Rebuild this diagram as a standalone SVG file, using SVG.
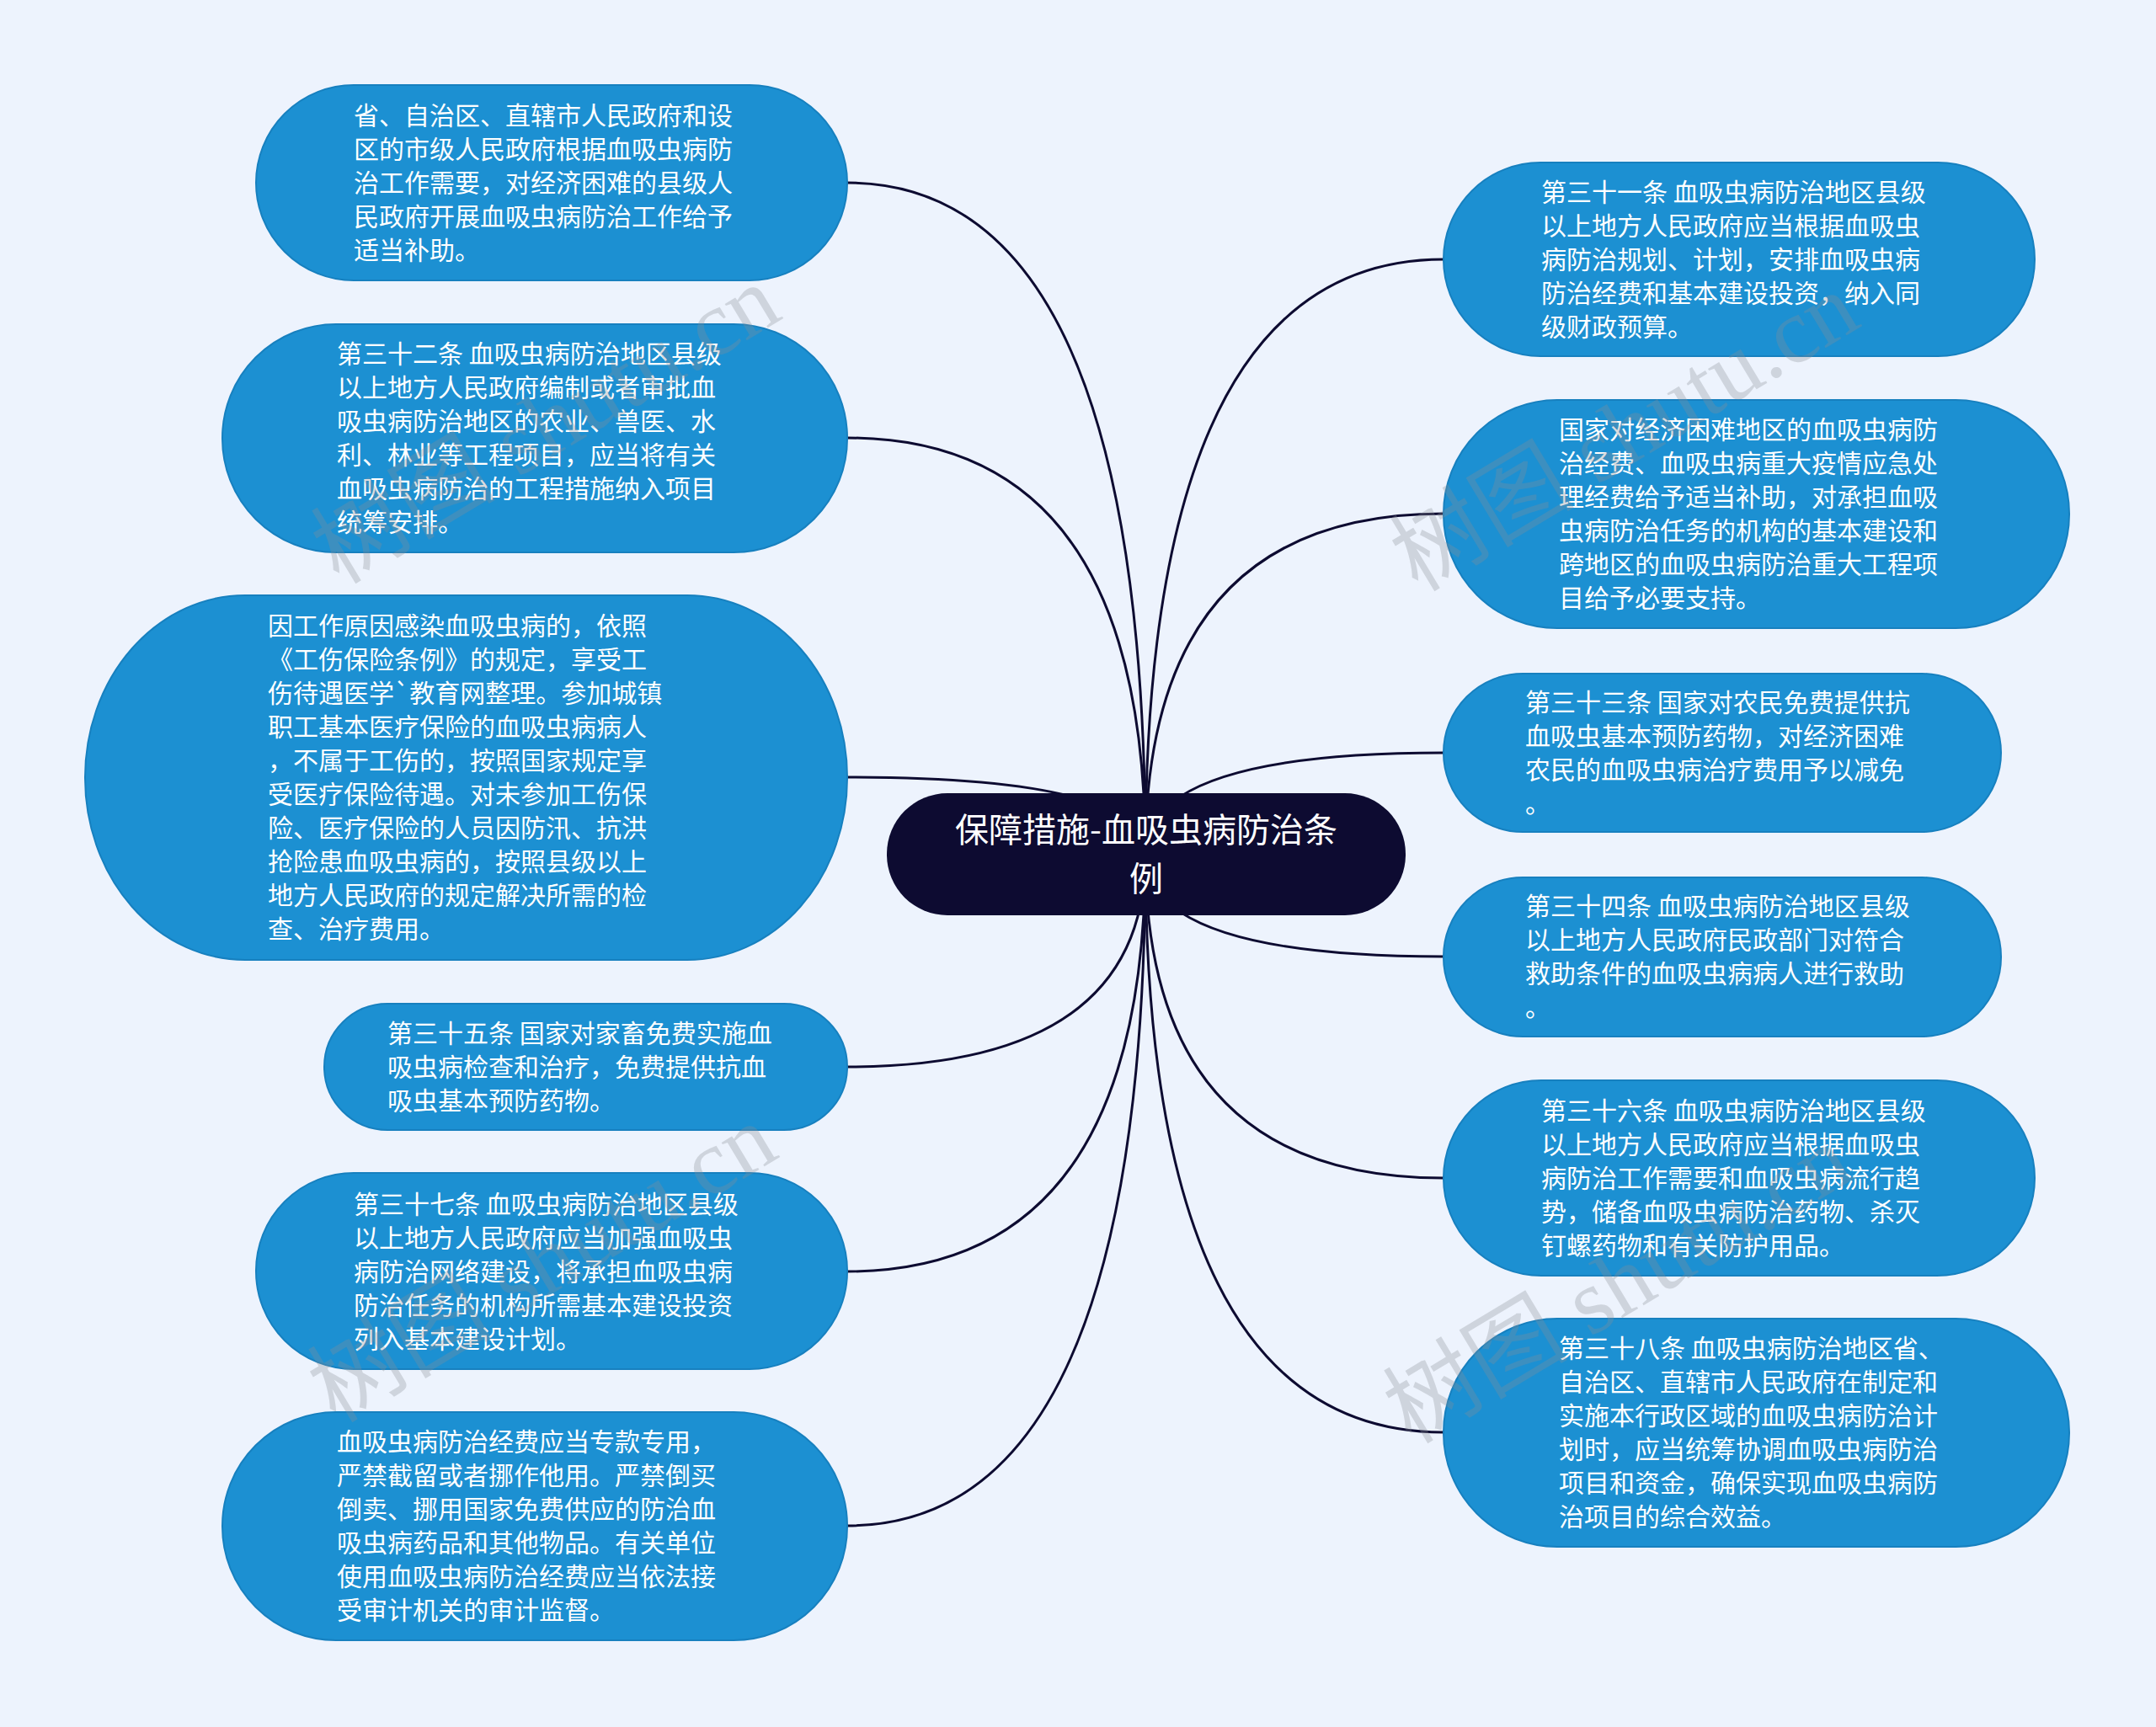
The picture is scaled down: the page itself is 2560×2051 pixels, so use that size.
<svg xmlns="http://www.w3.org/2000/svg" width="2560" height="2051" viewBox="0 0 2560 2051">
<style>
.bg{fill:#edf3fd}
.node rect{fill:#1c90d2;stroke:#1780bf;stroke-width:2}
.node text{font-family:"Noto Sans CJK SC","Noto Sans",sans-serif;font-size:30px;fill:#ffffff}
.root rect{fill:#0d0b31}
.root text{font-family:"Noto Sans CJK SC","Noto Sans",sans-serif;font-size:40px;fill:#ffffff;text-anchor:middle}
.edge{fill:none;stroke:#0d0b31;stroke-width:3}
.wm{font-family:"Liberation Serif","Noto Sans CJK SC",serif;font-size:110px;fill:#8a8f96;opacity:0.3;text-anchor:middle}
</style>
<rect class="bg" x="0" y="0" width="2560" height="2051"/>
<g id="connectors">
<path class="edge" d="M1360 1014 Q1360 217 1006 217"/>
<path class="edge" d="M1360 1014 Q1360 520 1006 520"/>
<path class="edge" d="M1360 1014 Q1360 923 1006 923"/>
<path class="edge" d="M1360 1014 Q1360 1267 1006 1267"/>
<path class="edge" d="M1360 1014 Q1360 1510 1006 1510"/>
<path class="edge" d="M1360 1014 Q1360 1812 1006 1812"/>
<path class="edge" d="M1360 1014 Q1360 308 1714 308"/>
<path class="edge" d="M1360 1014 Q1360 610 1714 610"/>
<path class="edge" d="M1360 1014 Q1360 894 1714 894"/>
<path class="edge" d="M1360 1014 Q1360 1136 1714 1136"/>
<path class="edge" d="M1360 1014 Q1360 1399 1714 1399"/>
<path class="edge" d="M1360 1014 Q1360 1701 1714 1701"/>
</g>
<g id="root" class="root">
<rect x="1053" y="942" width="616" height="145" rx="72"/>
<text x="1361" y="1000">保障措施-血吸虫病防治条</text>
<text x="1361" y="1058">例</text>
</g>
<g id="L1" class="node">
<rect x="304" y="101" width="702" height="232" rx="116"/>
<text x="420" y="148"><tspan x="420">省、自治区、直辖市人民政府和设</tspan><tspan x="420" dy="40">区的市级人民政府根据血吸虫病防</tspan><tspan x="420" dy="40">治工作需要，对经济困难的县级人</tspan><tspan x="420" dy="40">民政府开展血吸虫病防治工作给予</tspan><tspan x="420" dy="40">适当补助。</tspan></text>
</g>
<g id="L2" class="node">
<rect x="264" y="385" width="742" height="271" rx="135"/>
<text x="400" y="431"><tspan x="400">第三十二条 血吸虫病防治地区县级</tspan><tspan x="400" dy="40">以上地方人民政府编制或者审批血</tspan><tspan x="400" dy="40">吸虫病防治地区的农业、兽医、水</tspan><tspan x="400" dy="40">利、林业等工程项目，应当将有关</tspan><tspan x="400" dy="40">血吸虫病防治的工程措施纳入项目</tspan><tspan x="400" dy="40">统筹安排。</tspan></text>
</g>
<g id="L3" class="node">
<rect x="101" y="707" width="905" height="433" rx="190" ry="216"/>
<text x="318" y="754"><tspan x="318">因工作原因感染血吸虫病的，依照</tspan><tspan x="318" dy="40">《工伤保险条例》的规定，享受工</tspan><tspan x="318" dy="40">伤待遇医学`教育网整理。参加城镇</tspan><tspan x="318" dy="40">职工基本医疗保险的血吸虫病病人</tspan><tspan x="318" dy="40">，不属于工伤的，按照国家规定享</tspan><tspan x="318" dy="40">受医疗保险待遇。对未参加工伤保</tspan><tspan x="318" dy="40">险、医疗保险的人员因防汛、抗洪</tspan><tspan x="318" dy="40">抢险患血吸虫病的，按照县级以上</tspan><tspan x="318" dy="40">地方人民政府的规定解决所需的检</tspan><tspan x="318" dy="40">查、治疗费用。</tspan></text>
</g>
<g id="L4" class="node">
<rect x="385" y="1192" width="621" height="150" rx="75"/>
<text x="460" y="1238"><tspan x="460">第三十五条 国家对家畜免费实施血</tspan><tspan x="460" dy="40">吸虫病检查和治疗，免费提供抗血</tspan><tspan x="460" dy="40">吸虫基本预防药物。</tspan></text>
</g>
<g id="L5" class="node">
<rect x="304" y="1393" width="702" height="233" rx="116"/>
<text x="420" y="1441"><tspan x="420">第三十七条 血吸虫病防治地区县级</tspan><tspan x="420" dy="40">以上地方人民政府应当加强血吸虫</tspan><tspan x="420" dy="40">病防治网络建设，将承担血吸虫病</tspan><tspan x="420" dy="40">防治任务的机构所需基本建设投资</tspan><tspan x="420" dy="40">列入基本建设计划。</tspan></text>
</g>
<g id="L6" class="node">
<rect x="264" y="1677" width="742" height="271" rx="135"/>
<text x="400" y="1723"><tspan x="400">血吸虫病防治经费应当专款专用，</tspan><tspan x="400" dy="40">严禁截留或者挪作他用。严禁倒买</tspan><tspan x="400" dy="40">倒卖、挪用国家免费供应的防治血</tspan><tspan x="400" dy="40">吸虫病药品和其他物品。有关单位</tspan><tspan x="400" dy="40">使用血吸虫病防治经费应当依法接</tspan><tspan x="400" dy="40">受审计机关的审计监督。</tspan></text>
</g>
<g id="R1" class="node">
<rect x="1714" y="193" width="702" height="230" rx="115"/>
<text x="1830" y="239"><tspan x="1830">第三十一条 血吸虫病防治地区县级</tspan><tspan x="1830" dy="40">以上地方人民政府应当根据血吸虫</tspan><tspan x="1830" dy="40">病防治规划、计划，安排血吸虫病</tspan><tspan x="1830" dy="40">防治经费和基本建设投资，纳入同</tspan><tspan x="1830" dy="40">级财政预算。</tspan></text>
</g>
<g id="R2" class="node">
<rect x="1714" y="475" width="743" height="271" rx="135"/>
<text x="1851" y="521"><tspan x="1851">国家对经济困难地区的血吸虫病防</tspan><tspan x="1851" dy="40">治经费、血吸虫病重大疫情应急处</tspan><tspan x="1851" dy="40">理经费给予适当补助，对承担血吸</tspan><tspan x="1851" dy="40">虫病防治任务的机构的基本建设和</tspan><tspan x="1851" dy="40">跨地区的血吸虫病防治重大工程项</tspan><tspan x="1851" dy="40">目给予必要支持。</tspan></text>
</g>
<g id="R3" class="node">
<rect x="1714" y="800" width="662" height="188" rx="94"/>
<text x="1811" y="845"><tspan x="1811">第三十三条 国家对农民免费提供抗</tspan><tspan x="1811" dy="40">血吸虫基本预防药物，对经济困难</tspan><tspan x="1811" dy="40">农民的血吸虫病治疗费用予以减免</tspan><tspan x="1811" dy="40">。</tspan></text>
</g>
<g id="R4" class="node">
<rect x="1714" y="1042" width="662" height="189" rx="94"/>
<text x="1811" y="1087"><tspan x="1811">第三十四条 血吸虫病防治地区县级</tspan><tspan x="1811" dy="40">以上地方人民政府民政部门对符合</tspan><tspan x="1811" dy="40">救助条件的血吸虫病病人进行救助</tspan><tspan x="1811" dy="40">。</tspan></text>
</g>
<g id="R5" class="node">
<rect x="1714" y="1283" width="702" height="232" rx="116"/>
<text x="1830" y="1330"><tspan x="1830">第三十六条 血吸虫病防治地区县级</tspan><tspan x="1830" dy="40">以上地方人民政府应当根据血吸虫</tspan><tspan x="1830" dy="40">病防治工作需要和血吸虫病流行趋</tspan><tspan x="1830" dy="40">势，储备血吸虫病防治药物、杀灭</tspan><tspan x="1830" dy="40">钉螺药物和有关防护用品。</tspan></text>
</g>
<g id="R6" class="node">
<rect x="1714" y="1566" width="743" height="271" rx="135"/>
<text x="1851" y="1612"><tspan x="1851">第三十八条 血吸虫病防治地区省、</tspan><tspan x="1851" dy="40">自治区、直辖市人民政府在制定和</tspan><tspan x="1851" dy="40">实施本行政区域的血吸虫病防治计</tspan><tspan x="1851" dy="40">划时，应当统筹协调血吸虫病防治</tspan><tspan x="1851" dy="40">项目和资金，确保实现血吸虫病防</tspan><tspan x="1851" dy="40">治项目的综合效益。</tspan></text>
</g>
<g id="watermarks">
<text class="wm" transform="translate(649 506) rotate(-31)" x="0" y="35">树图 shutu.cn</text>
<text class="wm" transform="translate(1930 515) rotate(-31)" x="0" y="35">树图 shutu.cn</text>
<text class="wm" transform="translate(645 1502) rotate(-31)" x="0" y="35">树图 shutu.cn</text>
<text class="wm" transform="translate(1922 1527) rotate(-31)" x="0" y="35">树图 shutu.cn</text>
</g>
</svg>
